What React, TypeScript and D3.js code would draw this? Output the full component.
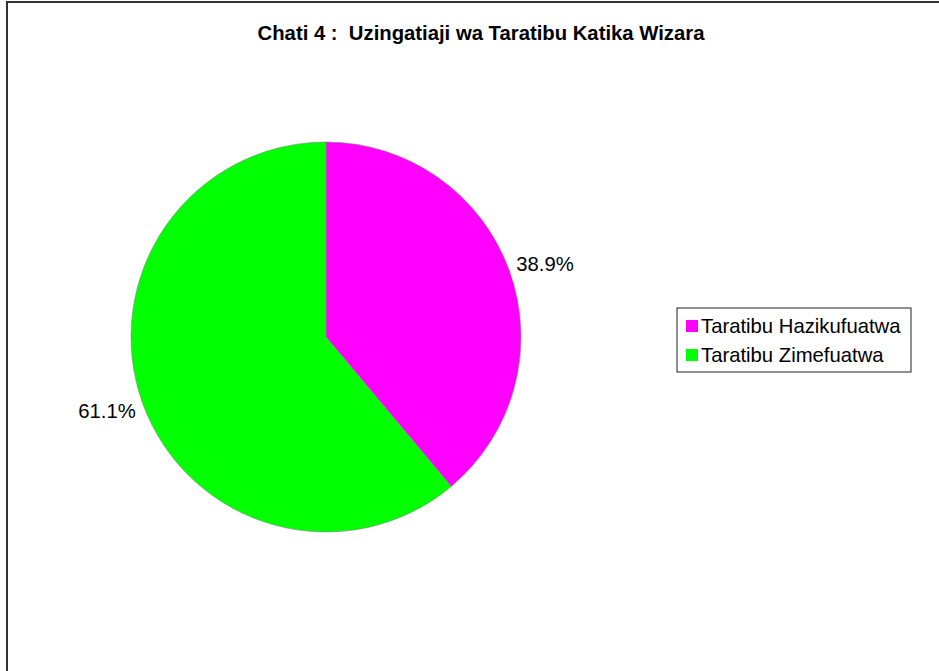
import React, { useRef, useEffect } from "react";
import * as d3 from "d3";

const categories = ["Taratibu Hazikufuatwa", "Taratibu Zimefuatwa"];
const values = [38.9, 61.1];
const labels = ["38.9%", "61.1%"];
const colors = ["#FF00FF", "#00FF00"];

const W = 939;
const H = 671;

export default function App() {
  const ref = useRef<SVGSVGElement>(null);

  useEffect(() => {
    const svg = d3.select(ref.current);
    svg.selectAll("*").remove();
    const font = "'Liberation Sans', Arial, sans-serif";

    svg.append("rect").attr("width", W).attr("height", H).attr("fill", "#fff");
    // outer border
    svg
      .append("rect")
      .attr("x", 7)
      .attr("y", 2)
      .attr("width", W + 10)
      .attr("height", H + 10)
      .attr("fill", "none")
      .attr("stroke", "#333")
      .attr("stroke-width", 2);

    svg
      .append("text")
      .text("Chati 4 :  Uzingatiaji wa Taratibu Katika Wizara")
      .attr("x", 481)
      .attr("y", 40)
      .attr("text-anchor", "middle")
      .attr("font-family", font)
      .attr("font-weight", "bold")
      .attr("font-size", 20.3)
      .style("white-space", "pre")
      .attr("fill", "#000");

    const cx = 326;
    const cy = 337;
    const r = 195;
    const pie = d3.pie<number>().sort(null)(values);
    const arc = d3.arc<d3.PieArcDatum<number>>().innerRadius(0).outerRadius(r);

    const g = svg.append("g").attr("transform", `translate(${cx},${cy})`);
    g.selectAll("path")
      .data(pie)
      .enter()
      .append("path")
      .attr("d", arc)
      .attr("fill", (d, i) => colors[i])
      .attr("stroke", "#888")
      .attr("stroke-width", 0.6);

    const labelArc = d3.arc<d3.PieArcDatum<number>>().innerRadius(r + 38).outerRadius(r + 38);
    g.selectAll("text.lbl")
      .data(pie)
      .enter()
      .append("text")
      .attr("class", "lbl")
      .text((d, i) => labels[i])
      .attr("x", (d) => labelArc.centroid(d)[0])
      .attr("y", (d, i) => labelArc.centroid(d)[1] + (i === 0 ? 6 : -6))
      .attr("dy", "0.35em")
      .attr("text-anchor", "middle")
      .attr("font-family", font)
      .attr("font-size", 20.3)
      .attr("fill", "#000");

    // legend
    const lg = svg.append("g").attr("transform", "translate(677,308)");
    lg.append("rect")
      .attr("width", 234)
      .attr("height", 64)
      .attr("fill", "#fff")
      .attr("stroke", "#222")
      .attr("stroke-width", 1);
    categories.forEach((c, i) => {
      const y = 18 + i * 29;
      lg.append("rect")
        .attr("x", 9)
        .attr("y", y - 6)
        .attr("width", 12)
        .attr("height", 12)
        .attr("fill", colors[i]);
      lg.append("text")
        .text(c)
        .attr("x", 24)
        .attr("y", y)
        .attr("dy", "0.35em")
        .attr("font-family", font)
        .attr("font-size", 20.3)
        .attr("fill", "#000");
    });
  }, []);

  return (
    <svg
      ref={ref}
      width={W}
      height={H}
      style={{ position: "absolute", left: 0, top: 0, display: "block" }}
    />
  );
}
